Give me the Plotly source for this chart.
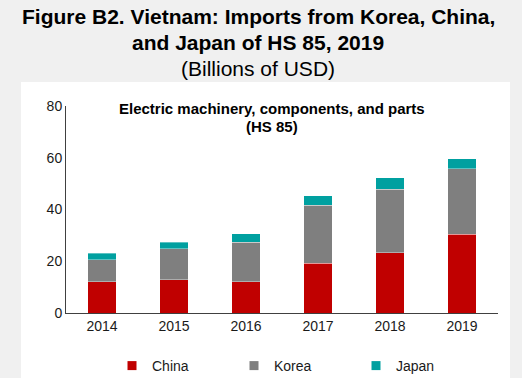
import plotly.graph_objects as go

years = ["2014", "2015", "2016", "2017", "2018", "2019"]
china = [12.0, 12.8, 12.0, 19.2, 23.2, 30.5]
korea = [8.5, 12.1, 15.4, 22.4, 24.7, 25.2]
japan = [2.6, 2.5, 3.3, 3.8, 4.3, 4.0]

colors = {"China": "#c00000", "Korea": "#7f7f7f", "Japan": "#00a0a0"}

fig = go.Figure()
for name, vals in [("China", china), ("Korea", korea), ("Japan", japan)]:
    fig.add_trace(go.Bar(
        x=years, y=vals, name=name, showlegend=False,
        marker=dict(color=colors[name], line=dict(color="rgba(255,255,255,0.6)", width=0.6)),
    ))
# legend entries with small square swatches
for name in ["China", "Korea", "Japan"]:
    fig.add_trace(go.Scatter(
        x=[None], y=[None], mode="markers", name=name,
        marker=dict(symbol="square", size=9, color=colors[name]),
    ))

W, H = 522, 378
L, R, T, B = 66, 24, 106, 65
pw, ph = W - L - R, H - T - B

def px_x(v):
    return (v - L) / pw

def px_y(v):
    return (H - B - v) / ph

fig.add_shape(type="rect", xref="paper", yref="paper",
              x0=px_x(21), x1=px_x(510), y0=px_y(378), y1=px_y(82),
              fillcolor="white", line=dict(width=0), layer="below")

font = "Liberation Sans, Arial, sans-serif"

texts = [
    ("<b>Figure B2. Vietnam: Imports from Korea, China,</b>", 16, 21),
    ("<b>and Japan of HS 85, 2019</b>", 43, 21),
    ("(Billions of USD)", 68, 21),
]
for t, yc, sz in texts:
    fig.add_annotation(xref="paper", yref="paper", x=px_x(258), y=px_y(yc),
                       xanchor="center", yanchor="middle", text=t, showarrow=False,
                       font=dict(family=font, size=sz, color="#000000"))

for t, yc in [("<b>Electric machinery, components, and parts</b>", 109), ("<b>(HS 85)</b>", 126)]:
    fig.add_annotation(xref="paper", yref="paper", x=px_x(272), y=px_y(yc),
                       xanchor="center", yanchor="middle", text=t, showarrow=False,
                       font=dict(family=font, size=15, color="#000000"))

fig.update_layout(
    width=W, height=H,
    margin=dict(l=L, r=R, t=T, b=B, autoexpand=False),
    paper_bgcolor="#f0f0f0",
    plot_bgcolor="rgba(0,0,0,0)",
    barmode="stack",
    bargap=0.6,
    font=dict(family=font, size=14, color="#1a1a1a"),
    xaxis=dict(
        type="category", categoryorder="array", categoryarray=years,
        range=[-0.5, 5.5], showline=True, linecolor="#404040", linewidth=1,
        ticks="", showgrid=False, tickfont=dict(size=14), zeroline=False,
    ),
    yaxis=dict(
        range=[0, 80], dtick=20, showline=True, linecolor="#404040", linewidth=1,
        ticks="", showgrid=False, tickfont=dict(size=14), zeroline=False,
    ),
    legend=dict(
        orientation="h", x=px_x(112), xanchor="left", y=px_y(350), yanchor="top",
        entrywidth=77, entrywidthmode="pixels", bgcolor="rgba(0,0,0,0)",
        font=dict(size=14), traceorder="normal", itemwidth=30,
    ),
)

fig.write_html("out.html", config={"displayModeBar": False},
               post_script="document.body.style.margin='0';document.body.style.padding='0';window.dispatchEvent(new Event('resize'));")
